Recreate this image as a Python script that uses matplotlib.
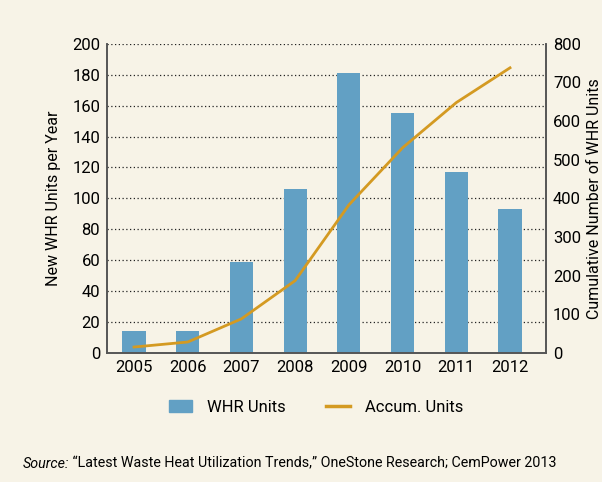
import matplotlib.pyplot as plt
from matplotlib.patches import Patch
from matplotlib.lines import Line2D

years = ["2005", "2006", "2007", "2008", "2009", "2010", "2011", "2012"]
new_units = [14, 14, 59, 106, 181, 155, 117, 93]
accum_units = [15, 28, 88, 187, 383, 531, 648, 738]

bg = "#f7f3e7"
bar_color = "#62a0c4"
line_color = "#d49a22"

plt.rcParams["font.family"] = ["Roboto", "DejaVu Sans"]

fig = plt.figure(figsize=(6.02, 4.82), dpi=100, facecolor=bg)
ax = fig.add_axes([0.178, 0.268, 0.729, 0.641], facecolor=bg)
x = list(range(len(years)))
ax.bar(x, new_units, width=0.43, color=bar_color, zorder=2)
ax.set_ylim(0, 200)
ax.set_xlim(-0.5, 7.67)
ax.set_yticks(range(0, 201, 20))
ax.set_xticks(x)
ax.set_xticklabels(years)
for y in range(20, 201, 20):
    ax.axhline(y, color="#222222", linestyle=(0, (1, 2)), linewidth=0.9, zorder=1)
ax.tick_params(length=0, labelsize=12, pad=5)
ax.set_ylabel("New WHR Units per Year", fontsize=11.5, labelpad=8)
ax.spines["top"].set_visible(False)
for s in ["left", "right", "bottom"]:
    ax.spines[s].set_color("#555555")
    ax.spines[s].set_linewidth(1.2)

ax2 = ax.twinx()
ax2.plot(x, accum_units, color=line_color, linewidth=2, zorder=3)
ax2.set_ylim(0, 800)
ax2.set_yticks(range(0, 801, 100))
ax2.tick_params(length=0, labelsize=12, pad=5)
ax2.set_ylabel("Cumulative Number of WHR Units", fontsize=11.5, labelpad=4)
ax2.spines["top"].set_visible(False)
for s in ["left", "right", "bottom"]:
    ax2.spines[s].set_color("#555555")
    ax2.spines[s].set_linewidth(1.2)

handles = [Patch(color=bar_color, label="WHR Units"),
           Line2D([0], [0], color=line_color, linewidth=2.5, label="Accum. Units")]
fig.legend(handles=handles, loc="center", bbox_to_anchor=(0.525, 0.155), ncol=2,
           frameon=False, fontsize=12, handlelength=1.4, handletextpad=0.9,
           columnspacing=2.4)

t1 = fig.text(0.037, 0.03, "Source:", style="italic", fontsize=10.3)
ax.annotate(" \u201cLatest Waste Heat Utilization Trends,\u201d OneStone Research; CemPower 2013",
            xy=(1, 0), xycoords=t1, va="bottom", ha="left", fontsize=10.3,
            annotation_clip=False)

fig.savefig("out.png", dpi=100, facecolor=bg)
